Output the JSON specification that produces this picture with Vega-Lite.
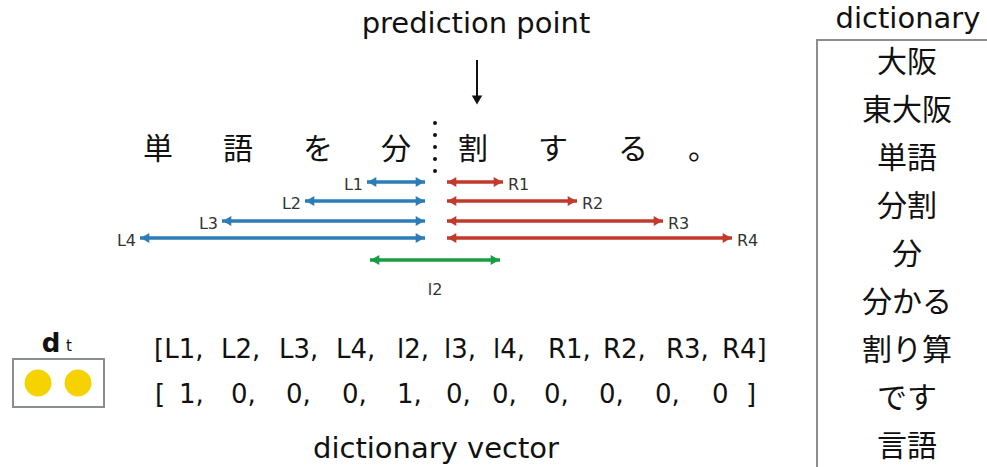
{
  "$schema": "https://vega.github.io/schema/vega-lite/v6.json",
  "width": 987,
  "height": 467,
  "padding": 0,
  "autosize": {"type": "none"},
  "background": "white",
  "config": {"view": {"stroke": null}, "font": "DejaVu Sans"},
  "datasets": {
    "arrows": [
      {"label": "L1", "kind": "L", "x": 367, "x2": 425, "y": 182},
      {"label": "L2", "kind": "L", "x": 305, "x2": 425, "y": 201},
      {"label": "L3", "kind": "L", "x": 222, "x2": 425, "y": 221},
      {"label": "L4", "kind": "L", "x": 140, "x2": 425, "y": 238},
      {"label": "R1", "kind": "R", "x": 447, "x2": 503, "y": 182},
      {"label": "R2", "kind": "R", "x": 447, "x2": 577, "y": 201},
      {"label": "R3", "kind": "R", "x": 447, "x2": 663, "y": 221},
      {"label": "R4", "kind": "R", "x": 447, "x2": 732, "y": 238},
      {"label": "l2", "kind": "l", "x": 370, "x2": 500, "y": 260}
    ],
    "sentence": [
      {"ch": "単", "x": 158, "y": 150},
      {"ch": "語", "x": 238, "y": 150},
      {"ch": "を", "x": 318, "y": 150},
      {"ch": "分", "x": 396, "y": 150},
      {"ch": "割", "x": 473, "y": 150},
      {"ch": "す", "x": 553, "y": 150},
      {"ch": "る", "x": 633, "y": 150},
      {"ch": "。", "x": 703, "y": 150}
    ],
    "dictionary": [
      {"word": "大阪", "x": 907, "y": 63},
      {"word": "東大阪", "x": 907, "y": 111},
      {"word": "単語", "x": 907, "y": 159},
      {"word": "分割", "x": 907, "y": 207},
      {"word": "分", "x": 907, "y": 255},
      {"word": "分かる", "x": 907, "y": 303},
      {"word": "割り算", "x": 907, "y": 351},
      {"word": "です", "x": 907, "y": 399},
      {"word": "言語", "x": 907, "y": 447}
    ],
    "titles": [
      {"text": "prediction point", "x": 476, "y": 33},
      {"text": "dictionary", "x": 908, "y": 28},
      {"text": "dictionary vector", "x": 436, "y": 458}
    ],
    "features": [
      {"t": "[L1,", "x": 154, "y": 358},
      {"t": "L2,", "x": 221, "y": 358},
      {"t": "L3,", "x": 279, "y": 358},
      {"t": "L4,", "x": 336, "y": 358},
      {"t": "l2,", "x": 397, "y": 358},
      {"t": "l3,", "x": 444, "y": 358},
      {"t": "l4,", "x": 493, "y": 358},
      {"t": "R1,", "x": 548, "y": 358},
      {"t": "R2,", "x": 603, "y": 358},
      {"t": "R3,", "x": 666, "y": 358},
      {"t": "R4]", "x": 722, "y": 358}
    ],
    "vector": [
      {"v": "[", "x": 155, "y": 403},
      {"v": "1,", "x": 179, "y": 403},
      {"v": "0,", "x": 231, "y": 403},
      {"v": "0,", "x": 286, "y": 403},
      {"v": "0,", "x": 342, "y": 403},
      {"v": "1,", "x": 397, "y": 403},
      {"v": "0,", "x": 446, "y": 403},
      {"v": "0,", "x": 492, "y": 403},
      {"v": "0,", "x": 544, "y": 403},
      {"v": "0,", "x": 599, "y": 403},
      {"v": "0,", "x": 655, "y": 403},
      {"v": "0", "x": 712, "y": 403},
      {"v": "]", "x": 746, "y": 403}
    ],
    "dots": [
      {"x": 435, "y": 123}, {"x": 435, "y": 135}, {"x": 435, "y": 147},
      {"x": 435, "y": 159}, {"x": 435, "y": 171}
    ],
    "pointer": [{"x": 477, "y": 60, "y2": 100}],
    "boxes": [
      {"name": "dictionary", "x": 817, "x2": 1000, "y": 40, "y2": 480},
      {"name": "dt", "x": 13, "x2": 104, "y": 359, "y2": 407}
    ],
    "circles": [{"x": 38, "y": 383}, {"x": 78, "y": 383}],
    "dt": [{"x": 51, "y": 352}]
  },
  "encoding": {
    "x": {"field": "x", "type": "quantitative", "scale": {"domain": [0, 987], "nice": false, "zero": false}, "axis": null},
    "y": {"field": "y", "type": "quantitative", "scale": {"domain": [0, 467], "reverse": true, "nice": false, "zero": false}, "axis": null}
  },
  "layer": [
    {
      "data": {"name": "boxes"},
      "mark": {"type": "rect", "fill": null, "stroke": "#8a8e92", "strokeWidth": 2, "clip": false},
      "encoding": {"x2": {"field": "x2"}, "y2": {"field": "y2"}}
    },
    {
      "data": {"name": "circles"},
      "mark": {"type": "point", "shape": "circle", "filled": true, "size": 720, "color": "#f5d200", "opacity": 1}
    },
    {
      "data": {"name": "arrows"},
      "mark": {"type": "rule", "strokeWidth": 3.5},
      "encoding": {
        "x2": {"field": "x2"},
        "color": {"field": "kind", "type": "nominal", "scale": {"domain": ["L", "R", "l"], "range": ["#2c7cb8", "#c23a2c", "#1a9c42"]}, "legend": null}
      }
    },
    {
      "data": {"name": "arrows"},
      "mark": {"type": "point", "shape": "triangle-left", "filled": true, "size": 100, "opacity": 1, "xOffset": 5},
      "encoding": {
        "color": {"field": "kind", "type": "nominal", "legend": null}
      }
    },
    {
      "data": {"name": "arrows"},
      "mark": {"type": "point", "shape": "triangle-right", "filled": true, "size": 100, "opacity": 1, "xOffset": -5},
      "encoding": {
        "x": {"field": "x2", "type": "quantitative"},
        "color": {"field": "kind", "type": "nominal", "legend": null}
      }
    },
    {
      "data": {"name": "arrows"},
      "transform": [{"filter": "datum.kind == 'L'"}],
      "mark": {"type": "text", "align": "right", "baseline": "alphabetic", "dx": -4, "dy": 8, "fontSize": 16, "color": "#333333"},
      "encoding": {"text": {"field": "label"}}
    },
    {
      "data": {"name": "arrows"},
      "transform": [{"filter": "datum.kind == 'R'"}],
      "mark": {"type": "text", "align": "left", "baseline": "alphabetic", "dx": 5, "dy": 8, "fontSize": 16, "color": "#333333"},
      "encoding": {"x": {"field": "x2", "type": "quantitative"}, "text": {"field": "label"}}
    },
    {
      "data": {"name": "arrows"},
      "transform": [{"filter": "datum.kind == 'l'"}],
      "mark": {"type": "text", "align": "center", "baseline": "alphabetic", "dy": 35, "fontSize": 16, "color": "#333333"},
      "encoding": {"xOffset": {"value": 65}, "text": {"field": "label"}}
    },
    {
      "data": {"name": "pointer"},
      "mark": {"type": "rule", "strokeWidth": 2, "color": "#111111"},
      "encoding": {"y2": {"field": "y2"}}
    },
    {
      "data": {"name": "pointer"},
      "mark": {"type": "point", "shape": "triangle-down", "filled": true, "size": 110, "color": "#111111", "opacity": 1},
      "encoding": {"y": {"field": "y2", "type": "quantitative"}}
    },
    {
      "data": {"name": "dots"},
      "mark": {"type": "point", "shape": "circle", "filled": true, "size": 16, "color": "#111111", "opacity": 1}
    },
    {
      "data": {"name": "sentence"},
      "mark": {"type": "text", "baseline": "middle", "align": "center", "font": "Noto Sans CJK JP", "fontSize": 30, "color": "#111111"},
      "encoding": {"text": {"field": "ch"}}
    },
    {
      "data": {"name": "dictionary"},
      "mark": {"type": "text", "baseline": "middle", "align": "center", "font": "Noto Sans CJK JP", "fontSize": 30, "color": "#111111"},
      "encoding": {"text": {"field": "word"}}
    },
    {
      "data": {"name": "titles"},
      "mark": {"type": "text", "baseline": "alphabetic", "align": "center", "fontSize": 29, "color": "#111111"},
      "encoding": {"text": {"field": "text"}}
    },
    {
      "data": {"name": "features"},
      "mark": {"type": "text", "baseline": "alphabetic", "align": "left", "fontSize": 26, "color": "#111111"},
      "encoding": {"text": {"field": "t"}}
    },
    {
      "data": {"name": "vector"},
      "mark": {"type": "text", "baseline": "alphabetic", "align": "left", "fontSize": 26, "color": "#111111"},
      "encoding": {"text": {"field": "v"}}
    },
    {
      "data": {"name": "dt"},
      "mark": {"type": "text", "baseline": "alphabetic", "align": "center", "fontSize": 26, "fontWeight": "bold", "color": "#111111"},
      "encoding": {"text": {"value": "d"}}
    },
    {
      "data": {"name": "dt"},
      "mark": {"type": "text", "baseline": "alphabetic", "align": "left", "fontSize": 15, "dx": 15, "dy": -1, "color": "#111111"},
      "encoding": {"text": {"value": "t"}}
    }
  ]
}
